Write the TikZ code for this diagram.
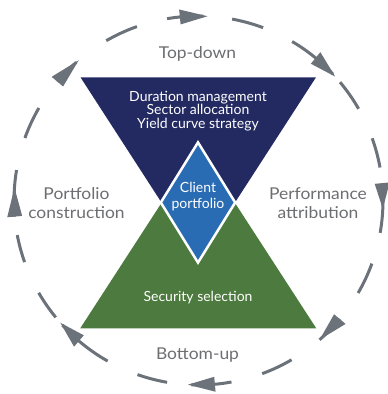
\documentclass[tikz,border=0pt]{standalone}
\usepackage{fontspec}
\setmainfont{Lato}
\newfontfamily\outerfont[FakeStretch=1.07]{Lato}
\definecolor{navy}{HTML}{232A62}
\definecolor{grn}{HTML}{4D7A3E}
\definecolor{dblue}{HTML}{2A6CB4}
\definecolor{ring}{HTML}{6B7279}
\definecolor{txtgray}{HTML}{6D6E71}
\tikzset{
  outerlbl/.style={text=txtgray, font=\outerfont\fontsize{16.3}{19}\selectfont, inner sep=0pt, anchor=base},
  innerlbl/.style={text=white, font=\fontsize{14}{16}\selectfont, inner sep=0pt, anchor=base},
  ringline/.style={draw=ring, line width=3pt, line cap=butt},
  ringhead/.style={fill=ring},
}
\newcommand{\rdash}[2]{\draw[ringline] (#1:184.5) arc[start angle=#1, end angle=#2, radius=184.5];}
\newcommand{\rhead}[2]{\fill[ringhead] (#2:184.5) -- (#1:177) -- (#1:192) -- cycle;}
\begin{document}
\begin{tikzpicture}[x=1pt,y=1pt]
\useasboundingbox (0,0) rectangle (388,394);
% triangles
\fill[navy] (80.5,316.7) -- (316,316.7) -- (198.25,134.7) -- cycle;
\fill[grn] (80.25,65.7) -- (316.25,65.7) -- (198.25,247.7) -- cycle;
\filldraw[fill=dblue, draw=white, line width=2.5pt, miter limit=10] (198,251.6) -- (235.2,191.5) -- (198,131.4) -- (160.8,191.5) -- cycle;
% ring
\begin{scope}[shift={(198.5,193.5)}]
  % plain dashes
  \rdash{160.2}{149.9}
  \rdash{120}{109.5}
  \rdash{79.5}{69.5}
  \rdash{39.9}{29.8}
  \rdash{19.7}{10.3}
  \rdash{-20}{-30.1}
  \rdash{-59.7}{-69.8}
  \rdash{-99.8}{-109.3}
  \rdash{-150}{-140.7}
  \rdash{-169.2}{-160.5}
  % arrow dashes
  \rdash{99.8}{88.5}   \rhead{95.8}{87.2}
  \rdash{59.5}{43.2}   \rhead{50.6}{42.2}
  \rdash{5.4}{-10.1}   \rhead{5.4}{-2.6}
  \rdash{-40}{-49}     \rhead{-40}{-49}
  \rdash{-79.7}{-92.2} \rhead{-84.9}{-93.3}
  \rdash{-119.5}{-137.5} \rhead{-130.4}{-138.5}
  \rdash{185}{170.5}   \rhead{185}{176}
  \rdash{139.9}{131.5} \rhead{139.9}{130.5}
\end{scope}
% labels
\node[outerlbl] (topdown) at (197.5,335.7) {Top-down};
\node[outerlbl] (bottomup) at (197.5,34.3) {Bottom-up};
\node[outerlbl] (pc1) at (76.5,194.7) {Portfolio};
\node[outerlbl] (pc2) at (76.5,175.5) {construction};
\node[outerlbl] (pa1) at (318,194.7) {Performance};
\node[outerlbl] (pa2) at (318,175.5) {attribution};
\node[innerlbl] (dur) at (198,292.3) {Duration management};
\node[innerlbl] (sec) at (198,279.7) {Sector allocation};
\node[innerlbl] (yld) at (198,265.7) {Yield curve strategy};
\node[innerlbl] (cl1) at (198,201.3) {Client};
\node[innerlbl] (cl2) at (198,185.7) {portfolio};
\node[innerlbl] (sel) at (198,92.7) {Security selection};
\end{tikzpicture}
\end{document}
